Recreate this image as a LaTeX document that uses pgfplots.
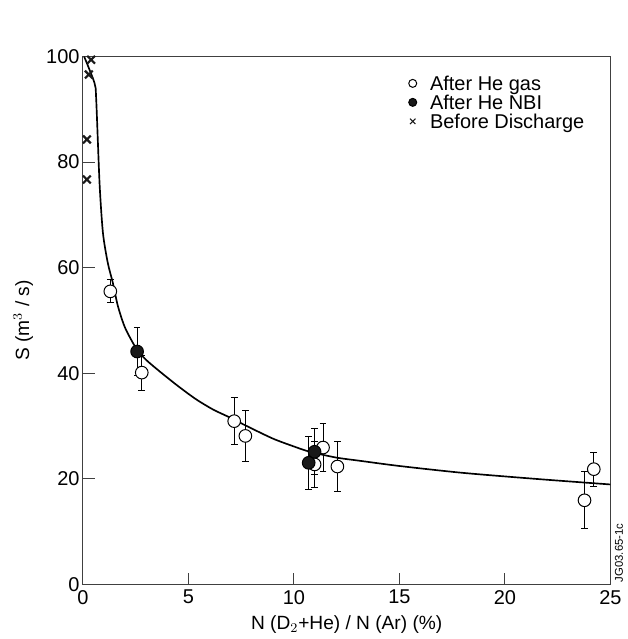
\documentclass[border=0pt]{standalone}
\usepackage{fontspec}
\setmainfont{Liberation Sans}
\usepackage{pgfplots}
\pgfplotsset{compat=1.18}

\pgfplotstableread{
x y e
1.30 55.5 2.2
2.79 40.1 3.3
7.17 30.9 4.5
7.70 28.1 4.8
10.98 22.7 4.3
11.38 25.9 4.5
12.06 22.3 4.7
23.77 15.9 5.4
24.21 21.8 3.2
}\gasdata

\pgfplotstableread{
x y e
2.57 44.1 4.6
10.70 23.0 5.0
10.98 25.1 4.4
}\nbidata

\pgfplotstableread{
x y
0.39 99.4
0.28 96.6
0.19 84.3
0.19 76.7
}\beforedata

\begin{document}
\begin{tikzpicture}
\begin{axis}[name=ax,
  width=317pt, height=317pt, scale only axis,
  xmin=0, xmax=25, ymin=0, ymax=100,
  xtick={0,5,...,25}, ytick={0,20,...,100},
  tick align=inside, xtick pos=bottom, ytick pos=left,
  major tick length=7pt,
  axis line style={black!75, line width=0.6pt},
  tick style={black!75, line width=0.6pt},
  /pgf/number format/assume math mode=true,
  tick label style={font=\fontsize{12}{14}\selectfont},
  yticklabel style={xshift=1.5pt},
  label style={font=\fontsize{11.5}{13}\selectfont},
  xlabel={N (D$_2$+He) / N (Ar) (\%)},
  ylabel={S (m$^3$ / s)},
  ylabel style={yshift=1pt},
  legend style={draw=none, fill=none, inner sep=0pt, at={(0.617,0.965)}, anchor=north west,
    row sep=1.8pt, font=\fontsize{12}{13}\selectfont,
    nodes={inner sep=0.5pt, text height=8.6pt, text depth=0pt},
    /tikz/every odd column/.append style={column sep=7.5pt}},
  legend cell align=left,
]
\addplot[black, line width=1pt, smooth, tension=0.45, forget plot] coordinates {
(0.06,100)(0.55,95)(0.63,92)(0.79,76)(0.95,66.6)(1.18,60.9)(1.42,57.1)(1.66,52.7)
(2.0,48.6)(2.54,44.6)(3.0,42.5)(3.8,39.8)(4.59,37.3)(5.38,35.0)(6.17,33.1)
(6.96,31.6)(7.75,30.0)(9.0,27.6)(10.0,26.1)(10.75,25.1)(12,24.0)(13.1,23.4)
(15,22.4)(18,21.1)(21.64,19.9)(25,18.9)};
\addplot[black, only marks, mark=*, mark size=3.8pt,
  mark options={fill=white, line width=0.6pt},
  error bars/.cd, y dir=both, y explicit,
  error bar style={line width=0.6pt}, error mark options={rotate=90, mark size=2pt, line width=0.6pt},
  /pgfplots/.cd,
  legend image post style={mark size=2.4pt}]
  table[x=x, y=y, y error=e] {\gasdata};
\addlegendentry{After He gas}
\addplot[black, only marks, mark=*, mark size=3.8pt,
  mark options={fill=black!90, line width=0.6pt},
  error bars/.cd, y dir=both, y explicit,
  error bar style={line width=0.6pt}, error mark options={rotate=90, mark size=2pt, line width=0.6pt},
  /pgfplots/.cd,
  legend image post style={mark size=2.4pt}]
  table[x=x, y=y, y error=e] {\nbidata};
\addlegendentry{After He NBI}
\addplot[black!90, only marks, mark=x, mark size=3.3pt, mark options={line width=1.3pt},
  legend image post style={mark size=2.3pt, mark options={line width=0.6pt}}]
  table[x=x, y=y] {\beforedata};
\addlegendentry{Before Discharge}
\end{axis}
\node[rotate=90, anchor=north west, font=\fontsize{6.8}{8}\selectfont, inner sep=1pt] at ([xshift=1.5pt]ax.south east) {JG03.65-1c};
\path ([xshift=-49.8pt,yshift=-32.4pt]ax.south west) rectangle ([xshift=8pt,yshift=34pt]ax.north east);
\end{tikzpicture}
\end{document}
